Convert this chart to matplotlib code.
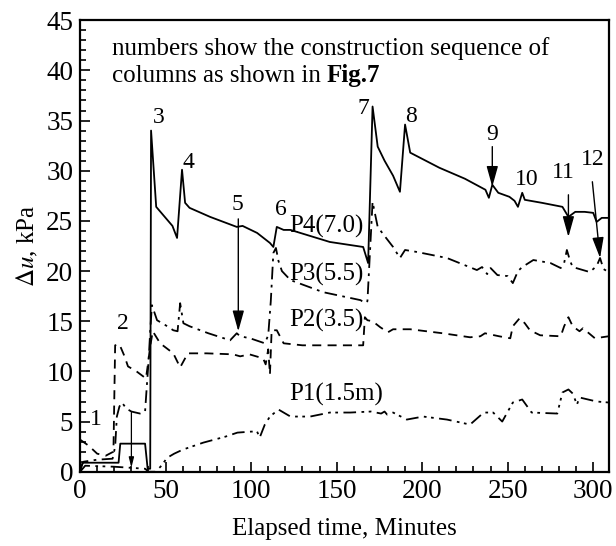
import numpy as np
import matplotlib.pyplot as plt
from matplotlib.ticker import MultipleLocator

plt.rcParams['font.family'] = ['Liberation Serif', 'DejaVu Serif']
plt.rcParams['mathtext.fontset'] = 'stix'

# P4 (7.0 m) - solid
t_p4 = [0, 1.5, 22.5, 23.5, 38, 39.5, 41, 41.5, 44.5, 50, 54, 56.7, 59.6, 61.4, 64, 76,
        91.6, 95, 103.5, 111, 113, 115, 119, 123, 146, 165.5, 168.4, 171, 174, 178, 183,
        187, 190, 193, 210, 225, 237, 239, 241, 244.5, 251, 254, 256, 258.5, 260, 270,
        282, 285.5, 289.5, 295, 300, 302, 305, 309]
u_p4 = [0, 0.9, 0.9, 2.8, 2.8, 0.3, 0.3, 34.0, 26.4, 25.3, 24.5, 23.3, 30.1, 26.8, 26.3, 25.4,
        24.4, 24.5, 23.8, 22.8, 22.4, 24.4, 24.1, 24.1, 22.9, 22.4, 20.8, 36.4, 32.4, 31.0, 29.5,
        27.9, 34.6, 31.8, 30.3, 29.2, 28.1, 27.3, 28.6, 27.8, 27.4, 27.0, 26.4, 27.8, 27.1, 26.8,
        26.4, 25.4, 25.9, 25.9, 25.8, 24.9, 25.3, 25.3]

# P3 (5.5 m) - dash dot
t_p3 = [0, 2, 10, 19, 20.5, 21.5, 23, 24.5, 27, 30, 35, 38, 39, 40, 41, 42, 45, 50, 54.5,
        57, 58.5, 60.4, 64, 75, 87.7, 91.6, 93.6, 99.4, 108, 110, 111.5, 113, 114.5, 116, 118,
        123, 142, 164, 166.5, 168, 171, 174, 178, 183, 187, 190, 197, 214.5, 232, 235, 238,
        240, 244, 250, 253, 256, 258.5, 265, 275, 281, 283, 284.6, 286.5, 288, 298, 302,
        304, 306, 309]
u_p3 = [0.3, 1.0, 1.2, 1.3, 2.5, 5.5, 6.5, 6.9, 6.3, 6.0, 5.8, 6.0, 8.5, 10.9, 14.0, 16.6, 15.1, 14.6, 14.1,
        14.0, 16.8, 14.8, 14.5, 13.8, 13.1, 13.8, 13.5, 13.3, 12.8, 13.6, 17.0, 21.8, 22.3, 21.0, 20.0,
        19.1, 17.9, 17.1, 16.8, 17.0, 26.9, 24.4, 23.5, 22.4, 21.3, 22.1, 21.9, 21.3, 20.1, 20.4, 19.7,
        20.3, 19.6, 19.5, 18.8, 20.0, 20.4, 21.1, 20.8, 20.3, 20.8, 22.1, 21.0, 20.4, 19.9, 20.5,
        21.3, 20.2, 19.9]

# P2 (3.5 m) - dashed
t_p2 = [0, 5, 10, 15, 19.5, 20.5, 23, 26, 28, 33, 38.5, 39.5, 41, 42.5, 46.8, 54.5, 58.5, 63,
        74, 89.5, 93.6, 99, 107, 108.5, 110, 111, 112, 115, 119, 130, 165.5, 166.5, 168, 171,
        175.5, 180, 183, 193, 212, 228, 234, 236.7, 245, 251.5, 253, 257, 260, 263, 269, 281,
        283, 285.5, 288, 292, 294, 301, 309]
u_p2 = [3.2, 2.6, 1.8, 1.6, 2.0, 12.6, 12.7, 11.5, 10.5, 10.0, 9.3, 10.5, 12.5, 14.0, 12.8, 11.8, 10.4, 11.8,
        11.8, 11.7, 11.5, 11.7, 11.3, 10.7, 12.2, 9.7, 14.1, 14.1, 12.8, 12.6, 12.6, 15.4, 15.1, 15.0,
        14.4, 13.9, 14.2, 14.2, 13.8, 13.4, 13.5, 13.8, 13.5, 13.3, 14.5, 15.3, 14.8, 14.1, 13.6, 13.5,
        14.5, 15.4, 14.5, 14.0, 14.3, 13.3, 13.5]

# P1 (1.5 m) - dash dot dot
t_p1 = [0, 3, 20, 38, 40, 44, 47, 51, 55, 60, 72, 85, 92, 100, 103.5, 105, 108, 111, 116, 123,
        134.5, 146, 158, 170, 176, 178, 179.5, 183, 191, 200.6, 214.5, 228, 232, 236, 241.5, 246.8,
        253, 258.5, 264, 279, 282, 285.5, 288, 290.5, 292, 302, 309]
u_p1 = [0, 0.6, 0.5, 0.3, 0, 0, 0.5, 1.4, 1.8, 2.2, 2.9, 3.5, 3.9, 4.0, 4.0, 3.4, 4.7, 5.5, 6.2, 5.5,
        5.5, 5.9, 5.9, 6.0, 5.8, 6.0, 5.7, 5.9, 5.2, 5.5, 5.2, 4.7, 5.3, 5.9, 5.9, 5.0,
        6.9, 7.2, 5.9, 5.8, 7.9, 8.2, 7.8, 6.7, 7.4, 7.0, 6.9]

# column numbers: label position and arrow (start, end) when there is one
col_num = ['1', '2', '3', '4', '5', '6', '7', '8', '9', '10', '11', '12']
col_xy = [(9, 5.2), (25, 14.8), (46, 35.3), (63.5, 30.8), (92, 26.6), (117.5, 26.1),
          (165.5, 36.2), (193.5, 35.4), (241, 33.6), (261, 29.1), (282.7, 29.8), (299.5, 31.1)]
arrows = [((92.5, 25.2), (92.5, 14.0)), ((241, 32.4), (241, 28.4)),
          ((285.5, 27.6), (285.5, 23.4)), ((299.5, 28.9), (304, 21.3))]

fig = plt.figure(figsize=(6.16, 5.46), dpi=100)
ax = fig.add_axes([0.13, 0.136, 0.858, 0.827])

ax.plot(t_p4, u_p4, color='black', lw=1.3, ls='-')
ax.plot(t_p3, u_p3, color='black', lw=1.3, ls=(0, (7, 3, 1.5, 3)))
ax.plot(t_p2, u_p2, color='black', lw=1.3, ls=(0, (5, 3.5)))
ax.plot(t_p1, u_p1, color='black', lw=1.3, ls=(0, (7, 3, 1.5, 2.5, 1.5, 3)))

for s, (xx, yy) in zip(col_num, col_xy):
    ax.text(xx, yy, s, fontsize=17, ha='center', va='center')
for (x0, y0), (x1, y1) in arrows:
    ax.annotate('', xy=(x1, y1), xytext=(x0, y0),
                arrowprops=dict(arrowstyle='-|>,head_length=0.9,head_width=0.25', color='black',
                                lw=1.0, mutation_scale=14, shrinkA=0, shrinkB=0))
# thin marker at column 2 near the bottom
ax.annotate('', xy=(30, 0.4), xytext=(30, 5.9),
            arrowprops=dict(arrowstyle='-|>,head_length=0.6,head_width=0.15', color='black',
                            lw=0.9, mutation_scale=10, shrinkA=0, shrinkB=0))

ax.text(122, 24.4, 'P4(7.0)', fontsize=18, va='center', ha='left')
ax.text(122, 19.7, 'P3(5.5)', fontsize=18, va='center', ha='left')
ax.text(122, 15.1, 'P2(3.5)', fontsize=18, va='center', ha='left')
ax.text(122, 7.7, 'P1(1.5m)', fontsize=18, va='center', ha='left')

# note: second line ends with a bold "Fig.7"
ax.text(18.5, 41.5, 'numbers show the construction sequence of', fontsize=18,
        ha='left', va='baseline')
t2 = ax.text(18.5, 38.3, 'columns as shown in', fontsize=18, ha='left', va='bottom')
ax.annotate('Fig.7', xy=(1, 0), xycoords=t2, xytext=(4.5, 0), textcoords='offset points',
            fontsize=18, fontweight='bold', ha='left', va='bottom')

ax.set_xlim(0, 309)
ax.set_ylim(0, 45)
ax.xaxis.set_major_locator(MultipleLocator(50))
ax.xaxis.set_minor_locator(MultipleLocator(10))
ax.yaxis.set_major_locator(MultipleLocator(5))
ax.yaxis.set_minor_locator(MultipleLocator(1))
ax.tick_params(which='both', direction='in', labelsize=19.5, width=1.2)
ax.tick_params(which='major', length=7, pad=5)
ax.tick_params(which='minor', length=4)
for sp in ax.spines.values():
    sp.set_linewidth(1.6)

ax.set_xlabel('Elapsed time, Minutes', fontsize=18, labelpad=10)
ax.set_ylabel('$\\mathit{\\Delta u}$, kPa', fontsize=18, labelpad=4)

fig.savefig('out.png', dpi=100)
